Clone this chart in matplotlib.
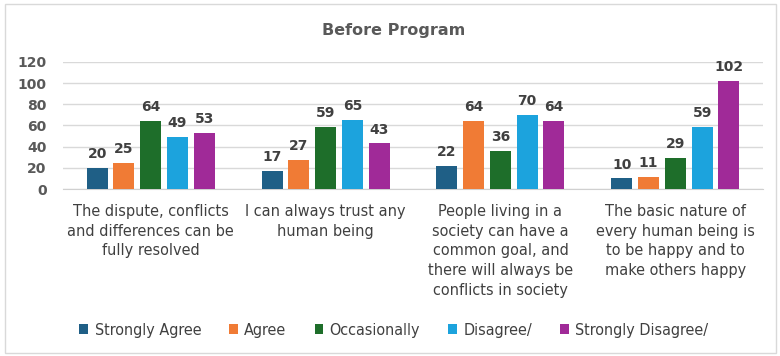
import numpy as np
import matplotlib
matplotlib.use("Agg")
import matplotlib.pyplot as plt
from matplotlib.patches import Rectangle
from matplotlib import font_manager

categories = [
    "The dispute, conflicts\nand differences can be\nfully resolved",
    "I can always trust any\nhuman being",
    "People living in a\nsociety can have a\ncommon goal, and\nthere will always be\nconflicts in society",
    "The basic nature of\nevery human being is\nto be happy and to\nmake others happy",
]
series_names = ["Strongly Agree", "Agree", "Occasionally", "Disagree/", "Strongly Disagree/"]
strongly_agree = [20, 17, 22, 10]
agree = [25, 27, 64, 11]
occasionally = [64, 59, 36, 29]
disagree = [49, 65, 70, 59]
strongly_disagree = [53, 43, 64, 102]
colors = ["#1F5F86", "#F07B35", "#1E6E2A", "#1CA3DD", "#A02A98"]

# condensed face for the category and legend text
cond_path = font_manager.findfont(
    font_manager.FontProperties(family="DejaVu Sans", stretch="condensed"))
label_col = "#404040"

fig = plt.figure(figsize=(7.8, 3.56), dpi=100)
ax = fig.add_axes([0.081, 0.469, 0.897, 0.357])

x = np.arange(len(categories))
width = 0.12
step = 0.153
all_series = [strongly_agree, agree, occasionally, disagree, strongly_disagree]
for i, (vals, name, c) in enumerate(zip(all_series, series_names, colors)):
    pos = x + (i - 2) * step
    bars = ax.bar(pos, vals, width, color=c, label=name, zorder=3)
    for b, v in zip(bars, vals):
        ax.annotate(str(v), (b.get_x() + b.get_width() / 2, v),
                    xytext=(0, 5), textcoords="offset points",
                    ha="center", va="bottom", fontsize=10, fontweight="bold",
                    color=label_col)

ax.set_xlim(-0.5, 3.5)
ax.set_ylim(0, 120)
ax.set_yticks(range(0, 121, 20))
ax.yaxis.grid(True, color="#D9D9D9", linewidth=1, zorder=0)
for s in ["top", "right", "left"]:
    ax.spines[s].set_visible(False)
ax.spines["bottom"].set_color("#D0D0D0")
ax.tick_params(axis="both", length=0)
ax.tick_params(axis="y", labelsize=10, labelcolor="#595959", pad=12)
for t in ax.get_yticklabels():
    t.set_fontweight("bold")
ax.set_xticks(x)
ax.set_xticklabels(categories, fontproperties=font_manager.FontProperties(fname=cond_path, size=11.6),
                   color=label_col, linespacing=1.38, va="top")
ax.tick_params(axis="x", pad=11)

fig.text(0.505, 0.915, "Before Program", ha="center", va="center",
         fontsize=11.5, fontweight="bold", color="#595959")

fig.legend(loc="center", bbox_to_anchor=(0.505, 0.073), ncol=5, frameon=False,
           prop=font_manager.FontProperties(fname=cond_path, size=11.5), labelcolor=label_col,
           handlelength=0.55, handleheight=0.55, handletextpad=0.4,
           columnspacing=1.75)

fig.patches.append(Rectangle((0.007, 0.008), 0.988, 0.98, transform=fig.transFigure,
                             fill=False, edgecolor="#D9D9D9", linewidth=1))

fig.savefig("out.png", dpi=100)
